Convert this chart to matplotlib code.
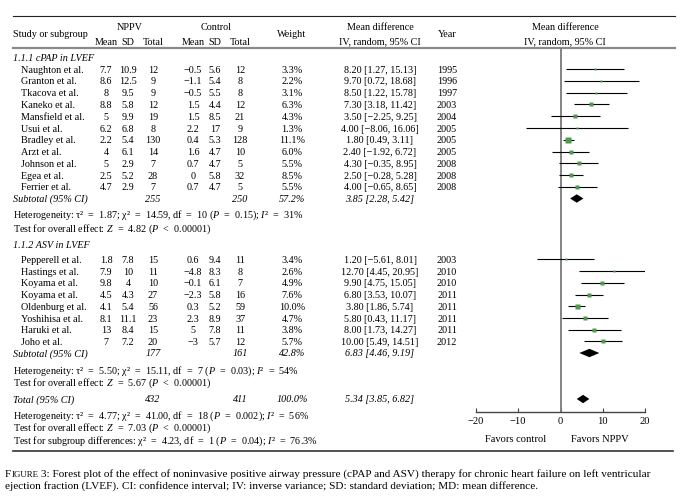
import matplotlib
matplotlib.use('Agg')
import matplotlib.pyplot as plt
import numpy as np

plt.rcParams['font.family'] = ['Liberation Serif', 'DejaVu Serif']
plt.rcParams['mathtext.fontset'] = 'custom'
plt.rcParams['mathtext.rm'] = 'Liberation Serif'
plt.rcParams['mathtext.it'] = 'Liberation Serif:italic'

# ---- data: cPAP subgroup
cpap_study = ['Naughton et al.', 'Granton et al.', 'Tkacova et al.', 'Kaneko et al.', 'Mansfield et al.',
              'Usui et al.', 'Bradley et al.', 'Arzt et al.', 'Johnson et al.', 'Egea et al.', 'Ferrier et al.']
cpap_nppv_mean = [7.7, 8.6, 8, 8.8, 5, 6.2, 2.2, 4, 5, 2.5, 4.7]
cpap_nppv_sd = [10.9, 12.5, 9.5, 5.8, 9.9, 6.8, 5.4, 6.1, 2.9, 5.2, 2.9]
cpap_nppv_n = [12, 9, 9, 12, 19, 8, 130, 14, 7, 28, 7]
cpap_ctrl_mean = [-0.5, -1.1, -0.5, 1.5, 1.5, 2.2, 0.4, 1.6, 0.7, 0, 0.7]
cpap_ctrl_sd = [5.6, 5.4, 5.5, 4.4, 8.5, 17, 5.3, 4.7, 4.7, 5.8, 4.7]
cpap_ctrl_n = [12, 8, 8, 12, 21, 9, 128, 10, 5, 32, 5]
cpap_weight = [3.3, 2.2, 3.1, 6.3, 4.3, 1.3, 11.1, 6.0, 5.5, 8.5, 5.5]
cpap_md = [8.20, 9.70, 8.50, 7.30, 3.50, 4.00, 1.80, 2.40, 4.30, 2.50, 4.00]
cpap_lo = [1.27, 0.72, 1.22, 3.18, -2.25, -8.06, 0.49, -1.92, -0.35, -0.28, -0.65]
cpap_hi = [15.13, 18.68, 15.78, 11.42, 9.25, 16.06, 3.11, 6.72, 8.95, 5.28, 8.65]
cpap_year = [1995, 1996, 1997, 2003, 2004, 2005, 2005, 2005, 2008, 2008, 2008]

# ---- data: ASV subgroup
asv_study = ['Pepperell et al.', 'Hastings et al.', 'Koyama et al.', 'Koyama et al.', 'Oldenburg et al.',
             'Yoshihisa et al.', 'Haruki et al.', 'Joho et al.']
asv_nppv_mean = [1.8, 7.9, 9.8, 4.5, 4.1, 8.1, 13, 7]
asv_nppv_sd = [7.8, 10, 4, 4.3, 5.4, 11.1, 8.4, 7.2]
asv_nppv_n = [15, 11, 10, 27, 56, 23, 15, 20]
asv_ctrl_mean = [0.6, -4.8, -0.1, -2.3, 0.3, 2.3, 5, -3]
asv_ctrl_sd = [9.4, 8.3, 6.1, 5.8, 5.2, 8.9, 7.8, 5.7]
asv_ctrl_n = [11, 8, 7, 16, 59, 37, 11, 12]
asv_weight = [3.4, 2.6, 4.9, 7.6, 10.0, 4.7, 3.8, 5.7]
asv_md = [1.20, 12.70, 9.90, 6.80, 3.80, 5.80, 8.00, 10.00]
asv_lo = [-5.61, 4.45, 4.75, 3.53, 1.86, 0.43, 1.73, 5.49]
asv_hi = [8.01, 20.95, 15.05, 10.07, 5.74, 11.17, 14.27, 14.51]
asv_year = [2003, 2010, 2010, 2011, 2011, 2011, 2011, 2012]

# ---- pooled results: [nppv total, control total, weight, md, lo, hi]
cpap_sub = [255, 250, 57.2, 3.85, 2.28, 5.42]
asv_sub = [177, 161, 42.8, 6.83, 4.46, 9.19]
overall = [432, 411, 100.0, 5.34, 3.85, 6.82]

cpap_het = 'Heterogeneity: τ² = 1.87; χ² = 14.59, df = 10 ($P$ = 0.15); $I$² = 31%'
cpap_z = 'Test for overall effect: $Z$ = 4.82 ($P$ < 0.00001)'
asv_het = 'Heterogeneity: τ² = 5.50; χ² = 15.11, df = 7 ($P$ = 0.03); $I$² = 54%'
asv_z = 'Test for overall effect: $Z$ = 5.67 ($P$ < 0.00001)'
tot_het = 'Heterogeneity: τ² = 4.77; χ² = 41.00, df = 18 ($P$ = 0.002); $I$² = 56%'
tot_z = 'Test for overall effect: $Z$ = 7.03 ($P$ < 0.00001)'
sub_diff = 'Test for subgroup differences: χ² = 4.23, df = 1 ($P$ = 0.04); $I$² = 76.3%'

caption1 = (' 3: Forest plot of the effect of noninvasive positive airway pressure (cPAP and ASV) '
            'therapy for chronic heart failure on left ventricular')
caption2 = ('ejection fraction (LVEF). CI: confidence interval; IV: inverse variance; '
            'SD: standard deviation; MD: mean difference.')

W, H = 693, 503
FS = 7.3
GREEN = '#4f9a4f'

fig = plt.figure(figsize=(W / 100, H / 100), dpi=100)
ax = fig.add_axes([0, 0, 1, 1])
ax.set_xlim(0, W)
ax.set_ylim(H, 0)
ax.axis('off')

# column centres (pixels)
c_m1, c_s1, c_n1 = 106, 128, 153
c_m2, c_s2, c_n2 = 193, 215, 240
c_w, c_md, c_yr = 292, 380, 447
x_head, x_study = 13, 21


def num(v):
    return ('%g' % v).replace('-', '\u2212')


def ci(m, lo, hi):
    return ('%.2f [%.2f, %.2f]' % (m, lo, hi)).replace('-', '\u2212')


def stat(s):
    # typeset statistics use wide spaces around relations
    return s.replace(' = ', '  =  ').replace(' < ', '  <  ')


def txt(x, y, s, ha='center', style='normal', size=FS):
    ax.text(x, y, s, ha=ha, va='center_baseline', fontsize=size, style=style)


# forest axes: x in MD units, y in the same pixel rows as the table
x0, x1 = 476, 645
y_top, y_axis = 48, 412
fa = fig.add_axes([x0 / W, 1 - y_axis / H, (x1 - x0) / W, (y_axis - y_top) / H])
fa.set_xlim(-20, 20)
fa.set_ylim(y_axis, y_top)
fa.patch.set_visible(False)
for s in ['top', 'left', 'right']:
    fa.spines[s].set_visible(False)
fa.spines['bottom'].set_color('#444444')
fa.spines['bottom'].set_linewidth(1.0)
fa.set_yticks([])
fa.set_xticks([-20, -10, 0, 10, 20])
fa.tick_params(axis='x', direction='in', length=3, width=0.8, pad=3.5, labelsize=7.6, color='#444444')
fa.axvline(0, color='#7a7a7a', lw=1.3)

# header
ax.plot([13, 675], [16, 16], color='#222222', lw=0.8)
ax.plot([13, 675], [48, 48], color='#8a8a8a', lw=1.6)
txt(x_head, 33, 'Study or subgroup', ha='left')
txt((c_m1 + c_n1) / 2, 26, 'NPPV')
txt((c_m2 + c_n2) / 2, 26, 'Control')
for c, s in zip([c_m1, c_s1, c_n1, c_m2, c_s2, c_n2], ['Mean', 'SD', 'Total'] * 2):
    txt(c, 41, s)
txt(c_w, 33, 'Weight')
txt(c_md, 26, 'Mean difference')
txt(c_md, 41, 'IV, random, 95% CI')
txt(c_yr, 33, 'Year')
txt(565, 26, 'Mean difference')
txt(565, 41, 'IV, random, 95% CI')


def study_rows(y0, step, names, m1, s1, n1, m2, s2, n2, w, md, lo, hi, yr):
    for i in range(len(names)):
        y = y0 + i * step
        txt(x_study, y, names[i], ha='left')
        txt(c_m1, y, num(m1[i]))
        txt(c_s1, y, num(s1[i]))
        txt(c_n1, y, num(n1[i]))
        txt(c_m2, y, num(m2[i]))
        txt(c_s2, y, num(s2[i]))
        txt(c_n2, y, num(n2[i]))
        txt(c_w, y, '%.1f%%' % w[i])
        txt(c_md, y, ci(md[i], lo[i], hi[i]))
        txt(c_yr, y, str(yr[i]))
        fa.plot([lo[i], hi[i]], [y, y], color='black', lw=0.8, solid_capstyle='butt')
        fa.plot(md[i], y, 's', color=GREEN, mec='none', ms=1.4 + 0.22 * w[i])


def pooled_row(y, label, vals):
    txt(x_head, y, label, ha='left', style='italic')
    txt(c_n1, y, num(vals[0]), style='italic')
    txt(c_n2, y, num(vals[1]), style='italic')
    txt(c_w, y, '%.1f%%' % vals[2], style='italic')
    txt(c_md, y, ci(vals[3], vals[4], vals[5]), style='italic')
    h = 4.2
    fa.fill([vals[4], vals[3], vals[5], vals[3]], [y, y - h, y, y + h], color='black', lw=0)


# subgroup 1
txt(x_head, 57, '1.1.1 cPAP in LVEF', ha='left', style='italic')
study_rows(69, 11.8, cpap_study, cpap_nppv_mean, cpap_nppv_sd, cpap_nppv_n, cpap_ctrl_mean,
           cpap_ctrl_sd, cpap_ctrl_n, cpap_weight, cpap_md, cpap_lo, cpap_hi, cpap_year)
pooled_row(198.5, 'Subtotal (95% CI)', cpap_sub)
txt(x_head, 213.5, stat(cpap_het), ha='left')
txt(x_head, 227.5, stat(cpap_z), ha='left')

# subgroup 2
txt(x_head, 244.5, '1.1.2 ASV in LVEF', ha='left', style='italic')
study_rows(259.5, 11.7, asv_study, asv_nppv_mean, asv_nppv_sd, asv_nppv_n, asv_ctrl_mean,
           asv_ctrl_sd, asv_ctrl_n, asv_weight, asv_md, asv_lo, asv_hi, asv_year)
pooled_row(353, 'Subtotal (95% CI)', asv_sub)
txt(x_head, 369, stat(asv_het), ha='left')
txt(x_head, 381, stat(asv_z), ha='left')

# overall
pooled_row(399, 'Total (95% CI)', overall)
txt(x_head, 414.5, stat(tot_het), ha='left')
txt(x_head, 426.5, stat(tot_z), ha='left')
txt(x_head, 439.5, stat(sub_diff), ha='left')

txt(516, 439, 'Favors control', size=7.6)
txt(600, 439, 'Favors NPPV', size=7.6)

ax.plot([13, 673], [451, 451], color='#333333', lw=1.2)

# caption with small caps "FIGURE"
r = fig.canvas.get_renderer()
inv = ax.transData.inverted()
xc = 5
for s, fs in [('F', 8.1), ('IGURE', 6.4), (caption1, 8.1)]:
    t = ax.text(xc, 477, s, ha='left', va='baseline', fontsize=fs)
    bb = t.get_window_extent(renderer=r)
    xc = inv.transform((bb.x1, bb.y0))[0]
ax.text(5, 489, caption2, ha='left', va='baseline', fontsize=8.1)

fig.savefig('out.png', dpi=100)
